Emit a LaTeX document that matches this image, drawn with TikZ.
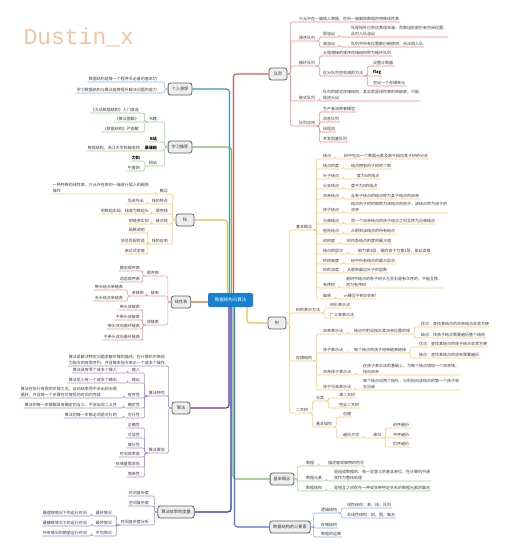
\documentclass[tikz,border=0pt]{standalone}
\usepackage{fontspec}
\setmainfont{Noto Sans CJK SC}
\newfontfamily\titlefont{Liberation Mono}
\usetikzlibrary{positioning}
\definecolor{hubblue}{RGB}{22,128,210}
\definecolor{boxgray}{RGB}{95,95,95}
\definecolor{boxfill}{RGB}{238,238,238}
\definecolor{inkgray}{RGB}{60,60,60}
\definecolor{peach}{RGB}{242,196,165}
\definecolor{qred}{RGB}{226,80,80}
\definecolor{qredlt}{RGB}{236,140,140}
\definecolor{tgold}{RGB}{244,186,60}
\definecolor{tgoldlt}{RGB}{246,205,115}
\definecolor{cgreen}{RGB}{110,190,90}
\definecolor{cgreenlt}{RGB}{160,212,140}
\definecolor{eblue}{RGB}{70,120,215}
\definecolor{ebluelt}{RGB}{140,172,232}
\definecolor{fblue}{RGB}{60,140,200}
\definecolor{fbluelt}{RGB}{135,180,222}
\definecolor{apurple}{RGB}{105,45,150}
\definecolor{apurplelt}{RGB}{175,140,205}
\definecolor{navy}{RGB}{40,45,170}
\definecolor{navylt}{RGB}{140,148,215}
\definecolor{lbrown}{RGB}{215,160,120}
\definecolor{lpink}{RGB}{232,155,155}
\newcommand{\linkR}[3][]{\draw[#1] (#2) -- ++(3,0) |- (#3.south west) -- (#3.south east);}
\newcommand{\linkL}[3][]{\draw[#1] (#2) -- ++(-3,0) |- (#3.south east) -- (#3.south west);}

\begin{document}
\begin{tikzpicture}[
  x=1pt, y=-1pt,
  hub/.style={
    rounded corners=2pt,
    fill=hubblue,
    text=white,
    font=\fontsize{4.5}{5.5}\selectfont,
    minimum width=45pt,
    minimum height=14pt
  },
  topic/.style={
    rounded corners=2.5pt,
    draw=boxgray,
    line width=0.8pt,
    fill=boxfill,
    text=inkgray,
    font=\fontsize{4.2}{5}\selectfont,
    inner xsep=3.5pt,
    minimum width=18pt,
    minimum height=12pt
  },
  leafR/.style={anchor=south west, inner xsep=1pt, inner ysep=1pt, align=left,
    text=inkgray, font=\fontsize{4}{5.5}\selectfont},
  leafL/.style={leafR, anchor=south east},
  strong/.style={font=\fontsize{4}{5.5}\selectfont\bfseries, text=black},
  trunk/.style={line width=1.1pt, rounded corners=3pt},
  twig/.style={line width=0.55pt, rounded corners=2pt},
  qtwig/.style={twig, draw=qredlt},
  ttwig/.style={twig, draw=tgoldlt},
  ctwig/.style={twig, draw=cgreenlt},
  etwig/.style={twig, draw=ebluelt},
  ftwig/.style={twig, draw=fbluelt},
  atwig/.style={twig, draw=apurplelt},
  mtwig/.style={twig, draw=navylt},
  ltwig/.style={twig, draw=lpink}
]
\useasboundingbox (0,0) rectangle (511,554);

\node[anchor=base west, text=peach, font=\titlefont\fontsize{23}{25}\selectfont] (title) at (20,44) {Dustin\_x};

\node[hub] (hub) at (230.5,300) {数据结构与算法};

% right side
\node[topic] (queue) at (278,74) {队列};
\node[topic] (tree) at (277,323) {树};
\node[topic] (basic) at (282,479) {基本概念};
\node[topic] (elem) at (290,527) {数据结构的三要素};

% left side
\node[topic] (feel) at (180,89) {个人感想};
\node[topic] (study) at (180,147) {学习推荐};
\node[topic] (stack) at (185,220) {栈};
\node[topic] (linear) at (181,302) {线性表};
\node[topic] (algo) at (181,408) {算法};
\node[topic] (eff) at (176,512) {算法效率的度量};

\draw[trunk, qred] ([xshift=3]hub.north) |- (queue.west);
\draw[trunk, tgold] ([xshift=16.5]hub.south) |- (tree.west);
\draw[trunk, cgreen] ([xshift=2.5]hub.south) |- (basic.west);
\draw[trunk, eblue] ([xshift=4]hub.south) |- (elem.west);
\draw[trunk, fblue] ([xshift=-1]hub.north) |- (feel.east);
\draw[trunk, cgreen] ([xshift=1]hub.north) |- (study.east);
\draw[trunk, tgold] ([xshift=-3]hub.north) |- (stack.east);
\draw[trunk, lbrown] (hub.west |- linear.east) -- (linear.east);
\draw[trunk, apurple] ([xshift=-1.5]hub.south) |- (algo.east);
\draw[trunk, navy] ([xshift=0.5]hub.south) |- (eff.east);

% queue
\node[leafR] (q1) at (298,22) {只允许在一端插入数据，在另一端删除数据的特殊线性表};
\node[leafR] (q2) at (298,41) {顺序队列};
\node[leafR] (q2a) at (322,37) {假溢出};
\node[leafR] (q2ad) at (350,37) {队尾指针已到达数组末端，而数组前部仍有空闲位置，\\此时入队溢出};
\node[leafR] (q2b) at (322,47) {真溢出};
\node[leafR] (q2bd) at (350,47) {队列中所有位置都已被使用，无法再入队};
\node[leafR] (q3) at (298,66) {循环队列};
\node[leafR] (q3a) at (322,56) {头尾相接的顺序存储结构称为循环队列};
\node[leafR] (q3b) at (322,76) {区分队列空和满的方法};
\node[leafR] (q3b1) at (372,66) {设置计数器};
\node[leafR, strong] (q3b2) at (372,76) {flag};
\node[leafR] (q3b3) at (372,86) {空出一个存储单元};
\node[leafR] (q4) at (298,101) {链式队列};
\node[leafR] (q4a) at (322,101) {队列的链式存储结构，其实就是线性表的单链表，只能\\尾进头出};
\node[leafR] (q5) at (298,126) {队列应用};
\node[leafR] (q5a) at (322,112) {生产者消费者模型};
\node[leafR] (q5b) at (322,122) {消息队列};
\node[leafR] (q5c) at (322,132) {线程池};
\node[leafR] (q5d) at (322,142) {并发阻塞队列};

\linkR[qtwig]{queue.east}{q1}
\linkR[qtwig]{queue.east}{q2}
\linkR[qtwig]{queue.east}{q3}
\linkR[qtwig]{queue.east}{q4}
\linkR[qtwig]{queue.east}{q5}
\linkR[qtwig]{q2.south east}{q2a}
\linkR[qtwig]{q2.south east}{q2b}
\linkR[qtwig]{q2a.south east}{q2ad}
\linkR[qtwig]{q2b.south east}{q2bd}
\linkR[qtwig]{q3.south east}{q3a}
\linkR[qtwig]{q3.south east}{q3b}
\linkR[qtwig]{q3b.south east}{q3b1}
\linkR[qtwig]{q3b.south east}{q3b2}
\linkR[qtwig]{q3b.south east}{q3b3}
\linkR[qtwig]{q4.south east}{q4a}
\linkR[qtwig]{q5.south east}{q5a}
\linkR[qtwig]{q5.south east}{q5b}
\linkR[qtwig]{q5.south east}{q5c}
\linkR[qtwig]{q5.south east}{q5d}

% tree
\node[leafR] (t1) at (295,230) {基本概念};
\node[leafR] (bc1) at (322,159) {结点};
\node[leafR] (bc1d) at (343,159) {树中包含一个数据元素及若干指向其子树的分支};
\node[leafR] (bc2) at (322,169) {结点的度};
\node[leafR] (bc2d) at (350,169) {结点拥有的子树的个数};
\node[leafR] (bc3) at (322,179) {叶子结点};
\node[leafR] (bc3d) at (356,179) {度为0的结点};
\node[leafR] (bc4) at (322,189) {分支结点};
\node[leafR] (bc4d) at (350,189) {度不为0的结点};
\node[leafR] (bc5) at (322,199) {双亲结点};
\node[leafR] (bc5d) at (350,199) {含有子结点的结点称为其子结点的双亲};
\node[leafR] (bc6) at (322,213) {孩子结点};
\node[leafR] (bc6d) at (350,213) {结点的子树的根称为该结点的孩子，该结点称为孩子的\\双亲};
\node[leafR] (bc7) at (322,224) {兄弟结点};
\node[leafR] (bc7d) at (350,224) {同一个双亲结点的孩子结点之间互称为兄弟结点};
\node[leafR] (bc8) at (322,234) {祖先结点};
\node[leafR] (bc8d) at (350,234) {从根到该结点的所有结点};
\node[leafR] (bc9) at (322,244) {树的度};
\node[leafR] (bc9d) at (346,244) {树内各结点的度的最大值};
\node[leafR] (bc10) at (322,254) {结点的层次};
\node[leafR] (bc10d) at (357,254) {根为第1层，根的孩子为第2层，依此类推};
\node[leafR] (bc11) at (322,264) {树的高度};
\node[leafR] (bc11d) at (350,264) {树中所有结点的最大层次};
\node[leafR] (bc12) at (322,273) {树的深度};
\node[leafR] (bc12d) at (346,273) {从根到最远叶子的层数};
\node[leafR] (bc13) at (322,288) {有序树};
\node[leafR] (bc13d) at (345,288) {若树中结点的各子树从左至右是有次序的，不能互换，\\则为有序树};
\node[leafR] (bc14) at (322,299) {森林};
\node[leafR] (bc14d) at (343,299) {m棵互不相交的树};

\node[leafR] (t2) at (295,313) {树的表示方法};
\node[leafR] (t2a) at (329,308) {树形表示法};
\node[leafR] (t2b) at (329,318) {广义表表示法};

\node[leafR] (t3) at (295,361) {存储结构};
\node[leafR] (sr1) at (322,334) {双亲表示法};
\node[leafR] (sr1d) at (353,334) {结点中附设指示其双亲位置的域};
\node[leafR] (sr1a) at (420,327) {优点：查找某结点的双亲结点非常方便};
\node[leafR] (sr1b) at (420,338) {缺点：找孩子结点需要遍历整个结构};
\node[leafR] (sr2) at (322,353) {孩子表示法};
\node[leafR] (sr2d) at (353,353) {每个结点的孩子用单链表链接};
\node[leafR] (sr2a) at (418,347) {优点：查找某结点的孩子结点非常方便};
\node[leafR] (sr2b) at (418,358) {缺点：查找某结点的双亲需要遍历};
\node[leafR] (sr3) at (322,375) {双亲孩子表示法};
\node[leafR] (sr3d) at (362,375) {在孩子表示法的基础上，为每个结点增加一个双亲域，\\指向双亲};
\node[leafR] (sr4) at (322,390) {孩子兄弟表示法};
\node[leafR] (sr4d) at (362,390) {每个结点设两个指针，分别指向该结点的第一个孩子和\\右兄弟};

\node[leafR] (t4) at (295,413) {二叉树};
\node[leafR] (bt1) at (315,401) {分类};
\node[leafR] (bt1a) at (338,398) {满二叉树};
\node[leafR] (bt1b) at (338,408) {完全二叉树};
\node[leafR] (bt2) at (315,427) {基本操作};
\node[leafR] (bt2a) at (342,417) {创建};
\node[leafR] (bt2b) at (342,438) {遍历方式};
\node[leafR] (bt2c) at (372,438) {递归};
\node[leafR] (bt2c1) at (392,428) {前序遍历};
\node[leafR] (bt2c2) at (392,438) {中序遍历};
\node[leafR] (bt2c3) at (392,447) {后序遍历};

\linkR[ttwig]{tree.east}{t1}
\linkR[ttwig]{tree.east}{t2}
\linkR[ttwig]{tree.east}{t3}
\linkR[ttwig]{tree.east}{t4}
\linkR[ttwig]{t1.south east}{bc1}
\linkR[ttwig]{t1.south east}{bc2}
\linkR[ttwig]{t1.south east}{bc3}
\linkR[ttwig]{t1.south east}{bc4}
\linkR[ttwig]{t1.south east}{bc5}
\linkR[ttwig]{t1.south east}{bc6}
\linkR[ttwig]{t1.south east}{bc7}
\linkR[ttwig]{t1.south east}{bc8}
\linkR[ttwig]{t1.south east}{bc9}
\linkR[ttwig]{t1.south east}{bc10}
\linkR[ttwig]{t1.south east}{bc11}
\linkR[ttwig]{t1.south east}{bc12}
\linkR[ttwig]{t1.south east}{bc13}
\linkR[ttwig]{t1.south east}{bc14}
\linkR[ttwig]{bc1.south east}{bc1d}
\linkR[ttwig]{bc2.south east}{bc2d}
\linkR[ttwig]{bc3.south east}{bc3d}
\linkR[ttwig]{bc4.south east}{bc4d}
\linkR[ttwig]{bc5.south east}{bc5d}
\linkR[ttwig]{bc6.south east}{bc6d}
\linkR[ttwig]{bc7.south east}{bc7d}
\linkR[ttwig]{bc8.south east}{bc8d}
\linkR[ttwig]{bc9.south east}{bc9d}
\linkR[ttwig]{bc10.south east}{bc10d}
\linkR[ttwig]{bc11.south east}{bc11d}
\linkR[ttwig]{bc12.south east}{bc12d}
\linkR[ttwig]{bc13.south east}{bc13d}
\linkR[ttwig]{bc14.south east}{bc14d}
\linkR[ttwig]{t2.south east}{t2a}
\linkR[ttwig]{t2.south east}{t2b}
\linkR[ttwig]{t3.south east}{sr1}
\linkR[ttwig]{t3.south east}{sr2}
\linkR[ttwig]{t3.south east}{sr3}
\linkR[ttwig]{t3.south east}{sr4}
\linkR[ttwig]{sr1.south east}{sr1d}
\linkR[ttwig]{sr1d.south east}{sr1a}
\linkR[ttwig]{sr1d.south east}{sr1b}
\linkR[ttwig]{sr2.south east}{sr2d}
\linkR[ttwig]{sr2d.south east}{sr2a}
\linkR[ttwig]{sr2d.south east}{sr2b}
\linkR[ttwig]{sr3.south east}{sr3d}
\linkR[ttwig]{sr4.south east}{sr4d}
\linkR[ttwig]{t4.south east}{bt1}
\linkR[ttwig]{t4.south east}{bt2}
\linkR[ttwig]{bt1.south east}{bt1a}
\linkR[ttwig]{bt1.south east}{bt1b}
\linkR[ttwig]{bt2.south east}{bt2a}
\linkR[ttwig]{bt2.south east}{bt2b}
\linkR[ttwig]{bt2b.south east}{bt2c}
\linkR[ttwig]{bt2c.south east}{bt2c1}
\linkR[ttwig]{bt2c.south east}{bt2c2}
\linkR[ttwig]{bt2c.south east}{bt2c3}

% basic concepts
\node[leafR] (c1) at (305,466) {数据};
\node[leafR] (c1d) at (327,466) {描述客观事物的符号};
\node[leafR] (c2) at (305,481) {数据元素};
\node[leafR] (c2d) at (333,481) {是组成数据的、有一定意义的基本单位，在计算机中通\\常作为整体处理};
\node[leafR] (c3) at (305,491) {数据结构};
\node[leafR] (c3d) at (333,491) {是相互之间存在一种或多种特定关系的数据元素的集合};

\linkR[ctwig]{basic.east}{c1}
\linkR[ctwig]{basic.east}{c2}
\linkR[ctwig]{basic.east}{c3}
\linkR[ctwig]{c1.south east}{c1d}
\linkR[ctwig]{c2.south east}{c2d}
\linkR[ctwig]{c3.south east}{c3d}

% three elements
\node[leafR] (e1) at (320,513) {逻辑结构};
\node[leafR] (e1a) at (346,508) {线性结构：表、栈、队列};
\node[leafR] (e1b) at (346,518) {非线性结构：树、图、集合};
\node[leafR] (e2) at (320,528) {存储结构};
\node[leafR] (e3) at (320,537) {数据的运算};

\linkR[etwig]{elem.east}{e1}
\linkR[etwig]{elem.east}{e2}
\linkR[etwig]{elem.east}{e3}
\linkR[etwig]{e1.south east}{e1a}
\linkR[etwig]{e1.south east}{e1b}

% feelings
\node[leafL] (f1) at (158,82) {数据结构是每一个程序员必备的基本功};
\node[leafL] (f2) at (158,93) {学习数据结构与算法能够提升解决问题的能力};

\linkL[ftwig]{feel.west}{f1}
\linkL[ftwig]{feel.west}{f2}

% study
\node[leafL] (r1) at (158,122) {书籍};
\node[leafL] (r1a) at (140,113) {《大话数据结构》入门首选};
\node[leafL] (r1b) at (140,122) {《算法图解》};
\node[leafL] (r1c) at (140,132) {《数据结构》严蔚敏};
\node[leafL, strong] (r2) at (158,142) {B站};
\node[leafL, strong] (r3) at (158,151) {慕课网};
\node[leafL] (r3a) at (141,151) {数据结构，浙江大学陈越老师};
\node[leafL] (r4) at (158,166) {网站};
\node[leafL, strong] (r4a) at (141,161) {力扣};
\node[leafL] (r4b) at (141,171) {牛客网};

\linkL[ctwig]{study.west}{r1}
\linkL[ctwig]{study.west}{r2}
\linkL[ctwig]{study.west}{r3}
\linkL[ctwig]{study.west}{r4}
\linkL[ctwig]{r1.south west}{r1a}
\linkL[ctwig]{r1.south west}{r1b}
\linkL[ctwig]{r1.south west}{r1c}
\linkL[ctwig]{r3.south west}{r3a}
\linkL[ctwig]{r4.south west}{r4a}
\linkL[ctwig]{r4.south west}{r4b}

% stack
\node[leafL] (k1) at (169,194) {概念};
\node[leafL] (k1a) at (150,194) {一种特殊的线性表，只允许在表的一端进行插入和删除\\操作};
\node[leafL] (k2) at (169,204) {栈的特点};
\node[leafL] (k2a) at (145,204) {后进先出};
\node[leafL] (k3) at (169,214) {顺序栈};
\node[leafL] (k3a) at (150,214) {用数组实现，栈底为数组头};
\node[leafL] (k4) at (169,224) {链式栈};
\node[leafL] (k4a) at (150,224) {用链表实现};
\node[leafL] (k5) at (169,244) {栈的应用};
\node[leafL] (k5a) at (146,233) {函数调用};
\node[leafL] (k5b) at (146,244) {括号匹配检验};
\node[leafL] (k5c) at (146,254) {表达式求值};

\linkL[ttwig]{stack.west}{k1}
\linkL[ttwig]{stack.west}{k2}
\linkL[ttwig]{stack.west}{k3}
\linkL[ttwig]{stack.west}{k4}
\linkL[ttwig]{stack.west}{k5}
\linkL[ttwig]{k1.south west}{k1a}
\linkL[ttwig]{k2.south west}{k2a}
\linkL[ttwig]{k3.south west}{k3a}
\linkL[ttwig]{k4.south west}{k4a}
\linkL[ttwig]{k5.south west}{k5a}
\linkL[ttwig]{k5.south west}{k5b}
\linkL[ttwig]{k5.south west}{k5c}

% linear list
\node[leafL] (l1) at (160,276) {顺序表};
\node[leafL] (l1a) at (141,271) {静态顺序表};
\node[leafL] (l1b) at (141,282) {动态顺序表};
\node[leafL] (l2) at (160,296) {链表};
\node[leafL] (l2a) at (145,296) {单链表};
\node[leafL] (l2a1) at (124,290) {带头结点单链表};
\node[leafL] (l2a2) at (124,301) {无头结点单链表};
\node[leafL] (l3) at (160,325) {双链表};
\node[leafL] (l3a) at (141,310) {带头双链表};
\node[leafL] (l3b) at (141,320) {不带头双链表};
\node[leafL] (l3c) at (141,329) {带头双向循环链表};
\node[leafL] (l3d) at (141,340) {不带头双向循环链表};

\linkL[ltwig]{linear.west}{l1}
\linkL[ltwig]{linear.west}{l2}
\linkL[ltwig]{linear.west}{l3}
\linkL[ltwig]{l1.south west}{l1a}
\linkL[ltwig]{l1.south west}{l1b}
\linkL[ltwig]{l2.south west}{l2a}
\linkL[ltwig]{l2a.south west}{l2a1}
\linkL[ltwig]{l2a.south west}{l2a2}
\linkL[ltwig]{l3.south west}{l3a}
\linkL[ltwig]{l3.south west}{l3b}
\linkL[ltwig]{l3.south west}{l3c}
\linkL[ltwig]{l3.south west}{l3d}

% algorithm
\node[leafL] (a0) at (166,366) {算法是解决特定问题求解步骤的描述，在计算机中表现\\为指令的有限序列，并且每条指令表示一个或多个操作};
\node[leafL] (a1) at (166,396) {算法特性};
\node[leafL] (a1a) at (141,373) {输入};
\node[leafL] (a1ad) at (118,373) {算法具有零个或多个输入};
\node[leafL] (a1b) at (141,383) {输出};
\node[leafL] (a1bd) at (118,383) {算法至少有一个或多个输出};
\node[leafL] (a1c) at (141,398) {有穷性};
\node[leafL] (a1cd) at (118,398) {算法在执行有限的步骤之后，自动结束而不会出现无限\\循环，并且每一个步骤在可接受的时间内完成};
\node[leafL] (a1d) at (141,408) {确定性};
\node[leafL] (a1dd) at (118,408) {算法的每一步骤都具有确定的含义，不会出现二义性};
\node[leafL] (a1e) at (141,418) {可行性};
\node[leafL] (a1ed) at (118,418) {算法的每一步都必须是可行的};
\node[leafL] (a2) at (166,453) {算法要求};
\node[leafL] (a2a) at (141,428) {正确性};
\node[leafL] (a2b) at (141,438) {可读性};
\node[leafL] (a2c) at (141,448) {健壮性};
\node[leafL] (a2d) at (141,457) {时间效率高};
\node[leafL] (a2e) at (141,467) {存储量需求低};
\node[leafL] (a2f) at (141,477) {简单性};

\linkL[atwig]{algo.west}{a0}
\linkL[atwig]{algo.west}{a1}
\linkL[atwig]{algo.west}{a2}
\linkL[atwig]{a1.south west}{a1a}
\linkL[atwig]{a1.south west}{a1b}
\linkL[atwig]{a1.south west}{a1c}
\linkL[atwig]{a1.south west}{a1d}
\linkL[atwig]{a1.south west}{a1e}
\linkL[atwig]{a1a.south west}{a1ad}
\linkL[atwig]{a1b.south west}{a1bd}
\linkL[atwig]{a1c.south west}{a1cd}
\linkL[atwig]{a1d.south west}{a1dd}
\linkL[atwig]{a1e.south west}{a1ed}
\linkL[atwig]{a2.south west}{a2a}
\linkL[atwig]{a2.south west}{a2b}
\linkL[atwig]{a2.south west}{a2c}
\linkL[atwig]{a2.south west}{a2d}
\linkL[atwig]{a2.south west}{a2e}
\linkL[atwig]{a2.south west}{a2f}

% efficiency
\node[leafL] (m1) at (150,496) {时间复杂度};
\node[leafL] (m2) at (150,506) {空间复杂度};
\node[leafL] (m3) at (150,525) {时间复杂度分析};
\node[leafL] (m3a) at (113,516) {最好情况};
\node[leafL] (m3ad) at (88,516) {最理想情况下的运行时间};
\node[leafL] (m3b) at (113,526) {最坏情况};
\node[leafL] (m3bd) at (88,526) {最糟糕情况下的运行时间};
\node[leafL] (m3c) at (113,536) {平均情况};
\node[leafL] (m3cd) at (88,536) {所有情况的期望运行时间};

\linkL[mtwig]{eff.west}{m1}
\linkL[mtwig]{eff.west}{m2}
\linkL[mtwig]{eff.west}{m3}
\linkL[mtwig]{m3.south west}{m3a}
\linkL[mtwig]{m3.south west}{m3b}
\linkL[mtwig]{m3.south west}{m3c}
\linkL[mtwig]{m3a.south west}{m3ad}
\linkL[mtwig]{m3b.south west}{m3bd}
\linkL[mtwig]{m3c.south west}{m3cd}

\end{tikzpicture}
\end{document}
